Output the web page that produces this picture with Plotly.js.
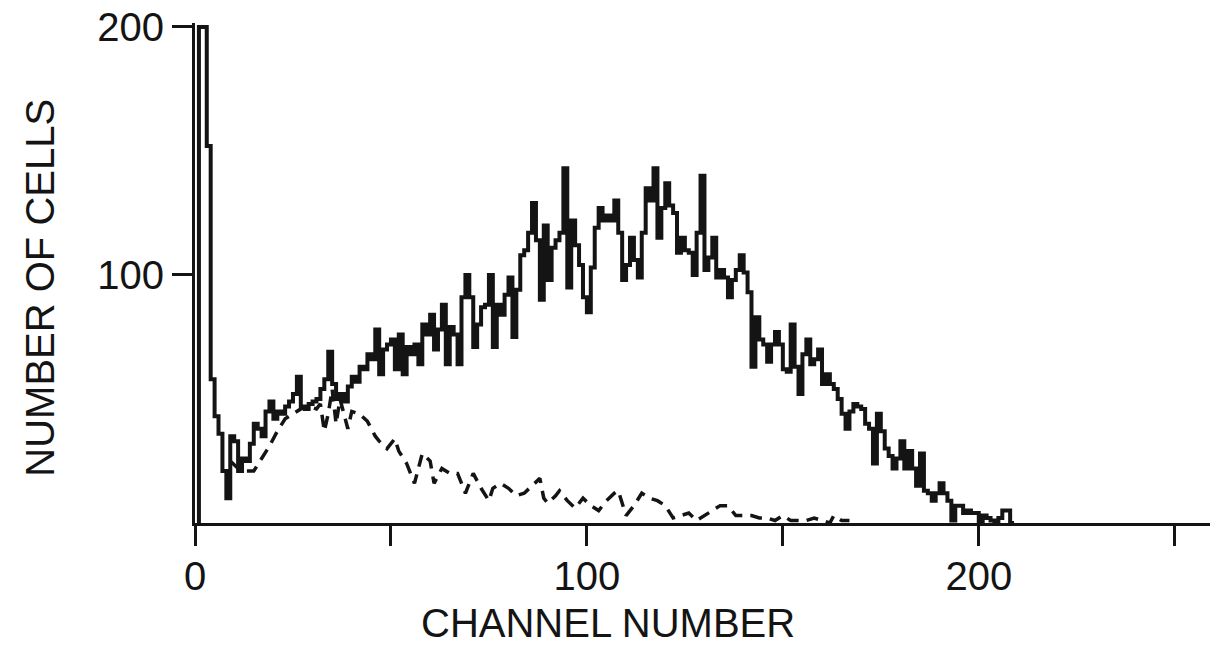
<!DOCTYPE html>
<html>
<head>
<meta charset="utf-8">
<script src="https://cdn.plot.ly/plotly-3.0.1.min.js"></script>
<style>
  html, body { margin: 0; padding: 0; background: #ffffff; }
  #chart { width: 1228px; height: 662px; }
</style>
</head>
<body>
<div id="chart"></div>
<script>
// Solid histogram: cell counts per channel, starting at channel 1
const solidFirstChannel = 1;
const solidCounts = [
  200, 200, 152, 58, 43, 36, 21, 10, 35, 33,
  21, 26, 25, 32, 40, 38, 35, 45, 49, 42,
  45, 44, 47, 49, 52, 59, 47, 46, 48, 49,
  50, 54, 58, 69, 56, 50, 52, 49, 55, 59,
  57, 63, 62, 68, 66, 78, 60, 70, 72, 74,
  62, 76, 60, 71, 68, 72, 64, 80, 76, 84,
  70, 78, 88, 64, 79, 76, 64, 91, 100, 91,
  71, 80, 87, 88, 100, 71, 88, 84, 92, 99,
  75, 94, 108, 110, 117, 129, 114, 90, 120, 98,
  111, 114, 117, 143, 95, 122, 112, 104, 91, 85,
  103, 119, 127, 122, 124, 122, 130, 117, 98, 104,
  115, 106, 99, 117, 135, 130, 143, 115, 127, 137,
  128, 125, 109, 115, 110, 109, 100, 117, 140, 102,
  107, 115, 99, 102, 99, 91, 98, 102, 108, 101,
  93, 63, 83, 74, 72, 65, 72, 77, 72, 62,
  61, 80, 63, 52, 68, 74, 64, 66, 70, 56,
  60, 56, 54, 50, 44, 38, 45, 48, 47, 46,
  40, 38, 24, 44, 37, 30, 27, 22, 26, 33,
  22, 29, 22, 15, 28, 13, 12, 9, 12, 16,
  12, 9, 1, 7, 7, 4, 5, 4, 4, 0,
  3, 2, 1, 0, 2, 5, 5, 0
];

// Dashed profile: channel / count pairs
const dashChannels = [
  9, 11, 13, 15, 17, 19, 21, 23, 25, 27, 29, 31, 32, 33, 34, 35, 36, 37, 38, 39,
  40, 42, 44, 46, 47, 49, 51, 52, 54, 56, 58, 60, 61, 63, 65, 67, 69, 71, 73, 75,
  76, 78, 80, 82, 84, 86, 88, 89, 90, 92, 93, 95, 97, 99, 101, 103, 105, 107, 108, 110,
  112, 114, 116, 118, 120, 122, 124, 126, 128, 130, 132, 134, 136, 138, 140, 142, 144, 146, 148, 150,
  152, 154, 156, 158, 160, 162, 163, 165, 167
];
const dashCounts = [
  25, 22, 21, 21, 26, 31, 37, 42, 44, 46, 47, 46, 48, 37, 44, 54, 40, 50, 44, 38,
  45, 44, 41, 35, 33, 30, 34, 29, 24, 16, 28, 25, 16, 22, 20, 20, 12, 20, 14, 9,
  14, 16, 14, 11, 12, 15, 18, 10, 8, 11, 13, 9, 6, 10, 7, 5, 9, 12, 13, 3,
  7, 12, 10, 9, 7, 2, 3, 4, 1, 3, 5, 7, 7, 3, 3, 3, 2, 2, 1, 3,
  1, 1, 1, 2, 1, 0, 3, 1, 1
];

// Axis ticks
const xTickVals = [0, 50, 100, 150, 200, 250];
const xTickText = ['0', '', '100', '', '200', ''];
const yTickVals = [100, 200];
const yTickText = ['100', '200'];

// Step trace: rise from the baseline, one step per channel, fall back at the end
const solidX = [solidFirstChannel];
const solidY = [0];
solidCounts.forEach((c, i) => { solidX.push(solidFirstChannel + i); solidY.push(c); });
solidX.push(solidFirstChannel + solidCounts.length);
solidY.push(0);

const FONT = '"Liberation Sans", Arial, Helvetica, sans-serif';
const INK = '#141414';

const traces = [
  {
    type: 'scatter', mode: 'lines',
    x: dashChannels, y: dashCounts,
    line: { color: INK, width: 3.5, dash: '12px,8px', shape: 'linear' },
    hoverinfo: 'skip'
  },
  {
    type: 'scatter', mode: 'lines',
    x: solidX, y: solidY,
    line: { color: INK, width: 4, shape: 'hv' },
    hoverinfo: 'skip'
  }
];

const layout = {
  width: 1228, height: 662,
  margin: { l: 195, r: 18, t: 23, b: 139 },
  paper_bgcolor: '#ffffff', plot_bgcolor: '#ffffff',
  showlegend: false,
  font: { family: FONT, color: INK },
  xaxis: {
    range: [0, 259],
    showgrid: false, zeroline: false,
    showline: true, linecolor: INK, linewidth: 3,
    ticks: 'outside', ticklen: 20, tickwidth: 3, tickcolor: INK,
    tickvals: xTickVals, ticktext: xTickText,
    ticklabelstandoff: -4,
    tickfont: { family: FONT, size: 40, color: INK }
  },
  yaxis: {
    range: [0, 201.6],
    showgrid: false, zeroline: false,
    showline: true, linecolor: INK, linewidth: 3,
    ticks: 'outside', ticklen: 20, tickwidth: 3, tickcolor: INK,
    tickvals: yTickVals, ticktext: yTickText,
    tickfont: { family: FONT, size: 40, color: INK }
  },
  annotations: [
    {
      text: 'CHANNEL NUMBER', showarrow: false,
      xref: 'paper', yref: 'paper', x: 0.407, y: -0.2,
      xanchor: 'center', yanchor: 'middle',
      font: { family: FONT, size: 40, color: INK }
    },
    {
      text: 'NUMBER OF CELLS', showarrow: false, textangle: -90,
      xref: 'paper', yref: 'paper', x: -0.153, y: 0.47,
      xanchor: 'center', yanchor: 'middle',
      font: { family: FONT, size: 40, color: INK }
    }
  ]
};

Plotly.newPlot('chart', traces, layout, { staticPlot: true, displayModeBar: false });
</script>
</body>
</html>
